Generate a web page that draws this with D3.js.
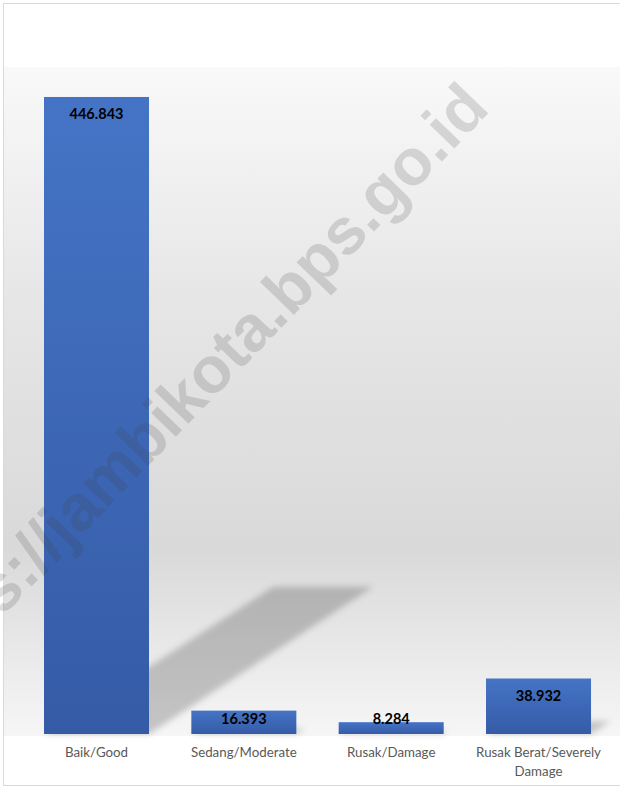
<!DOCTYPE html>
<html>
<head>
<meta charset="utf-8">
<script src="https://cdn.jsdelivr.net/npm/d3@7/dist/d3.min.js"></script>
<style>
  html, body { margin: 0; padding: 0; background: #ffffff; }
  svg { display: block; }
</style>
</head>
<body>
<div id="chart"></div>
<script>
// ---- data ----
const categories = ["Baik/Good", "Sedang/Moderate", "Rusak/Damage", "Rusak Berat/Severely Damage"];
const values = [446.843, 16.393, 8.284, 38.932];
const valueLabels = ["446.843", "16.393", "8.284", "38.932"];
const watermarkText = "https://jambikota.bps.go.id";

// ---- layout ----
const W = 620, H = 787;
const baseY = 734;
const svg = d3.select("#chart").append("svg").attr("width", W).attr("height", H);
const defs = svg.append("defs");

// background floor gradient
const bg = defs.append("linearGradient").attr("id", "bgGrad").attr("x1", 0).attr("y1", 0).attr("x2", 0).attr("y2", 1);
[["0%", "#f9f9f9"], ["35%", "#e6e6e6"], ["72%", "#d9d9d9"], ["100%", "#f6f6f6"]]
  .forEach(([o, c]) => bg.append("stop").attr("offset", o).attr("stop-color", c));

const barGrad = defs.append("linearGradient").attr("id", "barGrad").attr("x1", 0).attr("y1", 0).attr("x2", 0).attr("y2", 1);
barGrad.append("stop").attr("offset", "0%").attr("stop-color", "#4574c6");
barGrad.append("stop").attr("offset", "100%").attr("stop-color", "#355ba6");

const blur = defs.append("filter").attr("id", "blur").attr("x", "-20%").attr("y", "-20%").attr("width", "140%").attr("height", "140%");
blur.append("feGaussianBlur").attr("stdDeviation", 3);

// white page + border
svg.append("rect").attr("x", 0).attr("y", 0).attr("width", W).attr("height", H).attr("fill", "#ffffff");
svg.append("rect").attr("x", 4).attr("y", 67).attr("width", W - 4).attr("height", baseY + 2 - 67).attr("fill", "url(#bgGrad)");
svg.append("rect").attr("x", 3.5).attr("y", 3.5).attr("width", W + 10).attr("height", H - 5)
  .attr("fill", "none").attr("stroke", "#d9d9d9").attr("stroke-width", 1);

// scales
const x = d3.scaleBand().domain(categories).range([22.83, 612.2]).paddingInner(0.2873).paddingOuter(0.1437);
const y = d3.scaleLinear().domain([0, 500]).range([baseY, baseY - 500 * 1.4256]);

// shadows
const shadowG = svg.append("g").attr("filter", "url(#blur)");
shadowG.selectAll("path").data(values).join("path")
  .attr("d", (d, i) => {
    const x0 = x(categories[i]), x1 = x0 + x.bandwidth();
    const h = baseY - y(d);
    const p = d3.path();
    p.moveTo(x0, baseY);
    p.lineTo(x1, baseY);
    p.lineTo(x1 + 0.352 * h, baseY - 0.231 * h);
    p.lineTo(x0 + 0.36 * h, baseY - 0.231 * h);
    p.closePath();
    return p.toString();
  })
  .attr("fill", "#000").attr("fill-opacity", 0.2);

// bars
svg.append("g").selectAll("rect").data(values).join("rect")
  .attr("x", (d, i) => x(categories[i]))
  .attr("y", d => y(d))
  .attr("width", x.bandwidth())
  .attr("height", d => baseY - y(d))
  .attr("fill", "url(#barGrad)");

// watermark
svg.append("text")
  .attr("transform", "translate(188,392) rotate(-46)")
  .attr("text-anchor", "middle")
  .attr("dominant-baseline", "central")
  .attr("font-family", "'Liberation Sans', Arial, sans-serif")
  .attr("font-weight", "bold")
  .attr("font-size", 65)
  .attr("fill", "#404040").attr("fill-opacity", 0.18)
  .text(watermarkText);

// value labels
svg.append("g").selectAll("text").data(values).join("text")
  .attr("x", (d, i) => x(categories[i]) + x.bandwidth() / 2)
  .attr("y", d => Math.min(y(d) + 17, baseY - 16))
  .attr("text-anchor", "middle")
  .attr("dominant-baseline", "central")
  .attr("font-family", "Lato, 'Open Sans', sans-serif")
  .attr("font-weight", "bold")
  .attr("font-size", 14.5)
  .attr("fill", "#000")
  .text((d, i) => valueLabels[i]);

// category labels (axis without line/ticks)
const axis = d3.axisBottom(x).tickSize(0).tickPadding(0);
const axG = svg.append("g").attr("transform", `translate(0,${baseY})`).call(axis);
axG.select(".domain").remove();
axG.selectAll("text")
  .attr("font-family", "Lato, 'Open Sans', sans-serif")
  .attr("font-size", 13.3)
  .attr("fill", "#595959")
  .attr("dy", null)
  .each(function(d) {
    const t = d3.select(this);
    t.text(null);
    const words = d.split(" ");
    const maxW = x.step() - 4;
    let lines = [], cur = "";
    const meas = svg.append("text").attr("font-family", "Lato, 'Open Sans', sans-serif").attr("font-size", 13.3);
    words.forEach(w => {
      const test = cur ? cur + " " + w : w;
      meas.text(test);
      if (meas.node().getComputedTextLength() > maxW && cur) { lines.push(cur); cur = w; }
      else cur = test;
    });
    lines.push(cur);
    meas.remove();
    lines.forEach((l, k) => {
      t.append("tspan").attr("x", 0).attr("y", 23 + k * 19).text(l);
    });
  });
</script>
</body>
</html>
